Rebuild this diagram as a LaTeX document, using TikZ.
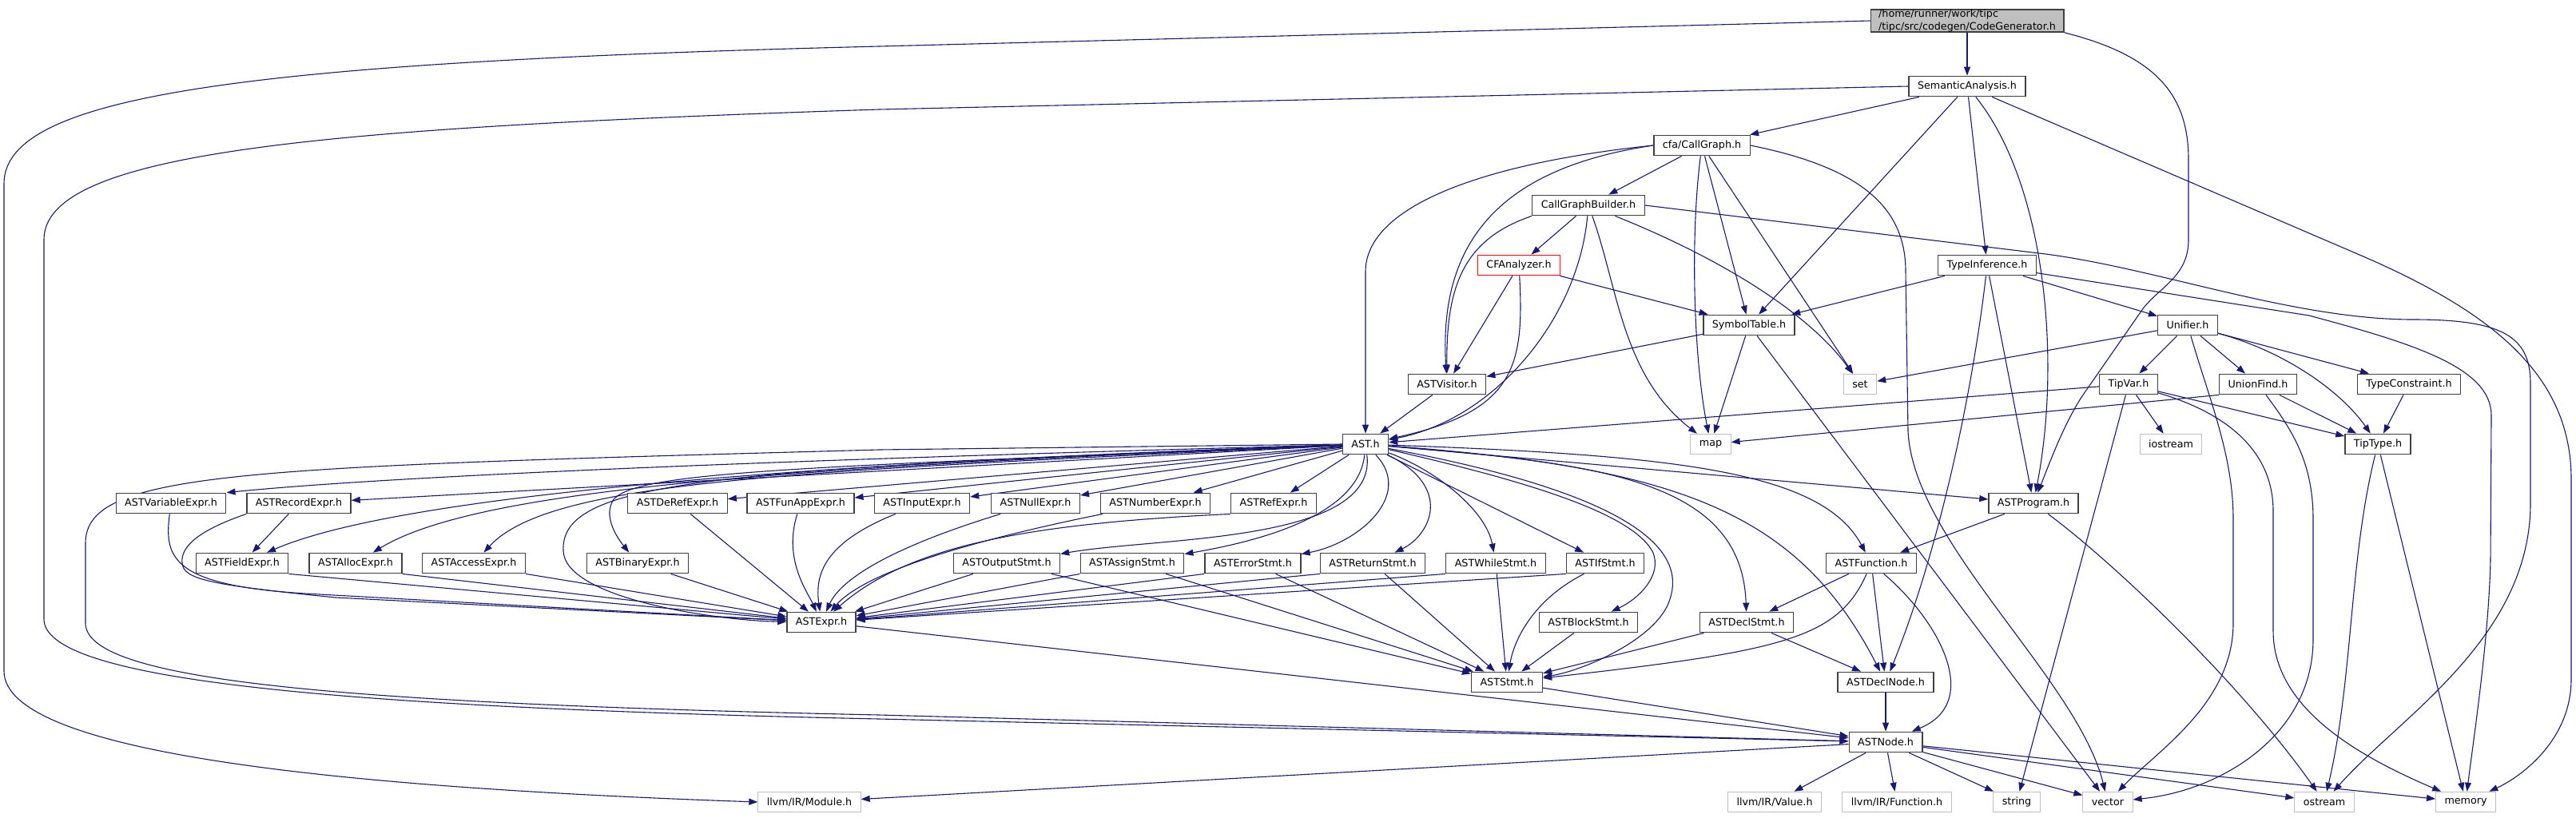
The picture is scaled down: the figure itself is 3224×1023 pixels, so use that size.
\documentclass[tikz,border=0pt]{standalone}
\usepackage{fontspec}
\setmainfont{DejaVu Sans}
\usetikzlibrary{arrows.meta}
\definecolor{edgeblue}{HTML}{191970}
\definecolor{sysgray}{HTML}{BFBFBF}
\pgfdeclarelayer{bg}
\pgfsetlayers{bg,main}

\begin{document}
\begin{tikzpicture}[x=1pt,y=-1pt,
  hdr/.style={draw=black!75,line width=1.3pt,fill=white,inner xsep=11pt,inner ysep=0pt,
    minimum height=25.5pt,font=\fontsize{12.7}{16}\selectfont},
  sys/.style={hdr,draw=sysgray,line width=1pt},
  dep/.style={draw=edgeblue,line width=1.1pt,-{Triangle[length=11pt,width=8pt]}}]
  \useasboundingbox (0,0) rectangle (3224,1023); % 画像全体の大きさ

  % ヘッダファイル（上から順に）
  \node[hdr,fill=sysgray,align=left,inner xsep=10pt] (cg) at (2462,26)
    {/home/runner/work/tipc\\/tipc/src/codegen/CodeGenerator.h}; % 対象のファイル
  \node[hdr] (sa) at (2462,108) {SemanticAnalysis.h};
  \node[hdr] (cgraph) at (2130,182) {cfa/CallGraph.h};
  \node[hdr] (cgb) at (1988,257) {CallGraphBuilder.h};
  \node[hdr,draw=red] (cfa) at (1901,332) {CFAnalyzer.h}; % 赤枠
  \node[hdr] (tinf) at (2487,332) {TypeInference.h};
  \node[hdr] (symtab) at (2189,407) {SymbolTable.h};
  \node[hdr] (unif) at (2738,407) {Unifier.h};
  \node[hdr] (visitor) at (1811,481) {ASTVisitor.h};
  \node[sys] (set) at (2328,481) {set};
  \node[hdr] (tipvar) at (2664,481) {TipVar.h};
  \node[hdr] (unionf) at (2826,481) {UnionFind.h};
  \node[hdr] (tcons) at (3015,481) {TypeConstraint.h};
  \node[hdr] (ast) at (1709,556) {AST.h};
  \node[sys] (map) at (2141,556) {map};
  \node[sys] (iostr) at (2717,556) {iostream};
  \node[hdr] (tiptype) at (2976,556) {TipType.h};
  % 式のノード
  \node[hdr] (varx) at (214,630) {ASTVariableExpr.h};
  \node[hdr] (recx) at (374,630) {ASTRecordExpr.h};
  \node[hdr] (derefx) at (848,630) {ASTDeRefExpr.h};
  \node[hdr] (funappx) at (1002,630) {ASTFunAppExpr.h};
  \node[hdr] (inputx) at (1154,630) {ASTInputExpr.h};
  \node[hdr] (nullx) at (1296,630) {ASTNullExpr.h};
  \node[hdr] (numx) at (1446,630) {ASTNumberExpr.h};
  \node[hdr] (refx) at (1594,630) {ASTRefExpr.h};
  \node[hdr] (prog) at (2545,630) {ASTProgram.h};
  \node[hdr] (fieldx) at (303,705) {ASTFieldExpr.h};
  \node[hdr] (allocx) at (445,705) {ASTAllocExpr.h};
  \node[hdr] (accx) at (593,705) {ASTAccessExpr.h};
  \node[hdr] (binx) at (798,705) {ASTBinaryExpr.h};
  % 文のノード
  \node[hdr] (outst) at (1260,705) {ASTOutputStmt.h};
  \node[hdr] (asgst) at (1417,705) {ASTAssignStmt.h};
  \node[hdr] (errst) at (1568,705) {ASTErrorStmt.h};
  \node[hdr] (retst) at (1718,705) {ASTReturnStmt.h};
  \node[hdr] (whlst) at (1872,705) {ASTWhileStmt.h};
  \node[hdr] (ifst) at (2009,705) {ASTIfStmt.h};
  \node[hdr] (fun) at (2342,705) {ASTFunction.h};
  \node[hdr] (expr) at (1028,779) {ASTExpr.h};
  \node[hdr] (blkst) at (1988,779) {ASTBlockStmt.h};
  \node[hdr] (dclst) at (2186,779) {ASTDeclStmt.h};
  \node[hdr] (stmt) at (1886,854) {ASTStmt.h};
  \node[hdr] (dcln) at (2360,854) {ASTDeclNode.h};
  \node[hdr] (astnode) at (2360,929) {ASTNode.h};
  % 外部ヘッダ（最下段）
  \node[sys] (mod) at (1013,1004) {llvm/IR/Module.h};
  \node[sys] (val) at (2221,1004) {llvm/IR/Value.h};
  \node[sys] (irfun) at (2374,1004) {llvm/IR/Function.h};
  \node[sys] (str) at (2524,1004) {string};
  \node[sys] (vec) at (2638,1004) {vector};
  \node[sys] (ost) at (2909,1004) {ostream};
  \node[sys] (mem) at (3086,1004) {memory};

  \begin{pgfonlayer}{bg}
  % CodeGenerator.h からの依存
  \draw[dep] (cg) -- (sa);
  \draw[dep] (cg.west) -- (1100,58) .. controls (300,78) and (5,120) .. (5,230)
    -- (5,840) .. controls (5,940) and (400,985) .. (mod.west); % 左端を回る線
  \draw[dep] (cg.south east) .. controls (2700,70) and (2739,120) .. (2739,200)
    -- (2739,300) .. controls (2739,345) and (2705,358) .. (2683,385)
    -- (2610,490) .. controls (2585,525) and (2565,580) .. (prog); % TipVar.h の左を通る
  % SemanticAnalysis.h からの依存
  \draw[dep] (sa) -- (cgraph);
  \draw[dep] (sa) -- (symtab);
  \draw[dep] (sa) -- (tinf);
  \draw[dep] (sa) .. controls (2560,230) and (2580,450) .. (prog);
  \draw[dep] (sa) -- (2960,322) .. controls (3120,392) and (3218,470) .. (3218,600)
    -- (3218,850) .. controls (3218,930) and (3150,975) .. (mem); % 右端を下る線
  \draw[dep] (sa.west) -- (1100,137) .. controls (400,160) and (55,190) .. (55,300)
    -- (55,775) .. controls (55,850) and (400,885) .. (1100,900) -- (astnode);
  % cfa/CallGraph.h からの依存
  \draw[dep] (cgraph) -- (cgb);
  \draw[dep] (cgraph.west) .. controls (1880,210) and (1800,300) .. (visitor);
  \draw[dep] (cgraph.west) .. controls (1850,205) and (1709,260) .. (1709,340) -- (ast);
  \draw[dep] (cgraph) .. controls (2115,300) and (2120,450) .. (map);
  \draw[dep] (cgraph) -- (symtab);
  \draw[dep] (cgraph) -- (set);
  \draw[dep] (cgraph.east) .. controls (2330,210) and (2385,260) .. (2385,340)
    -- (2388,540) .. controls (2395,680) and (2600,850) .. (vec);
  % CallGraphBuilder.h からの依存
  \draw[dep] (cgb) -- (cfa);
  \draw[dep] (cgb.south west) .. controls (1830,300) and (1810,360) .. (visitor);
  \draw[dep] (cgb) .. controls (1975,400) and (1870,525) .. (ast);
  \draw[dep] (cgb) .. controls (2025,360) and (2030,470) .. (map);
  \draw[dep] (cgb) .. controls (2170,330) and (2270,400) .. (set);
  \draw[dep] (cgb.east) -- (2560,318) .. controls (2700,336) and (2870,400) .. (3020,400)
    .. controls (3130,400) and (3167,420) .. (3167,480) -- (3167,630)
    .. controls (3167,800) and (3000,900) .. (ost);
  % CFAnalyzer.h からの依存
  \draw[dep] (cfa) -- (visitor);
  \draw[dep] (cfa) .. controls (1908,460) and (1895,515) .. (ast);
  \draw[dep] (cfa) -- (symtab);
  % SymbolTable.h, ASTVisitor.h からの依存
  \draw[dep] (symtab) -- (visitor);
  \draw[dep] (symtab) -- (map);
  \draw[dep] (symtab) -- (vec);
  \draw[dep] (visitor) -- (ast);
  % TypeInference.h からの依存
  \draw[dep] (tinf) -- (symtab);
  \draw[dep] (tinf) -- (unif);
  \draw[dep] (tinf) .. controls (2470,480) and (2430,680) .. (dcln);
  \draw[dep] (tinf) -- (prog);
  \draw[dep] (tinf) -- (2890,395) .. controls (3020,430) and (3118,460) .. (3118,520)
    -- (3117,700) .. controls (3115,800) and (3095,930) .. (mem);
  % Unifier.h からの依存
  \draw[dep] (unif) -- (set);
  \draw[dep] (unif) -- (tipvar);
  \draw[dep] (unif) .. controls (2765,500) and (2795,570) .. (2795,650)
    -- (2795,780) .. controls (2795,880) and (2700,940) .. (vec);
  \draw[dep] (unif) -- (unionf);
  \draw[dep] (unif) -- (tcons);
  \draw[dep] (unif) .. controls (2860,440) and (2930,490) .. (tiptype);
  % TipVar.h からの依存
  \draw[dep] (tipvar) -- (ast);
  \draw[dep] (tipvar) -- (str);
  \draw[dep] (tipvar) -- (iostr);
  \draw[dep] (tipvar) -- (tiptype);
  \draw[dep] (tipvar) .. controls (2780,515) and (2845,560) .. (2845,640)
    -- (2845,790) .. controls (2845,890) and (2960,950) .. (mem);
  % UnionFind.h, TypeConstraint.h, TipType.h からの依存
  \draw[dep] (unionf.south west) -- (map);
  \draw[dep] (unionf) .. controls (2870,540) and (2895,580) .. (2895,650)
    -- (2895,800) .. controls (2895,920) and (2780,990) .. (vec);
  \draw[dep] (unionf) -- (tiptype);
  \draw[dep] (tcons) -- (tiptype);
  \draw[dep] (tiptype) .. controls (2940,700) and (2945,850) .. (ost);
  \draw[dep] (tiptype) -- (mem);
  % ASTProgram.h, ASTFunction.h からの依存
  \draw[dep] (prog) -- (fun);
  \draw[dep] (prog) .. controls (2640,700) and (2800,850) .. (ost);
  \draw[dep] (fun) -- (dclst);
  \draw[dep] (fun) .. controls (2300,800) and (2230,815) .. (stmt);
  \draw[dep] (fun) -- (dcln);
  \draw[dep] (fun) .. controls (2430,780) and (2480,880) .. (astnode);
  \draw[dep] (dclst) -- (stmt);
  \draw[dep] (dclst) -- (dcln);
  \draw[dep] (dcln) -- (astnode);
  \draw[dep] (stmt) -- (astnode);
  \draw[dep] (expr) -- (astnode);
  % ASTNode.h からの依存
  \draw[dep] (astnode) -- (mod);
  \draw[dep] (astnode) -- (val);
  \draw[dep] (astnode) -- (irfun);
  \draw[dep] (astnode) -- (str);
  \draw[dep] (astnode) -- (vec);
  \draw[dep] (astnode) -- (ost);
  \draw[dep] (astnode) -- (mem);
  % AST.h からの依存（左側）
  \draw[dep] (ast.west) -- (1100,563) .. controls (300,585) and (107,590) .. (107,680)
    -- (107,780) .. controls (107,850) and (400,880) .. (1100,895) -- (astnode);
  \draw[dep] (ast) .. controls (1000,575) and (500,595) .. (varx.north east);
  \draw[dep] (ast) -- (recx);
  \draw[dep] (ast) .. controls (1000,580) and (500,620) .. (fieldx);
  \draw[dep] (ast) .. controls (1000,585) and (600,610) .. (allocx);
  \draw[dep] (ast) .. controls (1000,590) and (690,600) .. (accx);
  \draw[dep] (ast) .. controls (1000,585) and (800,590) .. (768,625)
    .. controls (755,645) and (770,670) .. (binx);
  \draw[dep] (ast) .. controls (900,588) and (700,600) .. (705,690)
    .. controls (708,750) and (900,777) .. (expr);
  \draw[dep] (ast) -- (derefx);
  \draw[dep] (ast) -- (funappx);
  \draw[dep] (ast) -- (inputx);
  \draw[dep] (ast) -- (nullx);
  \draw[dep] (ast) -- (numx);
  \draw[dep] (ast) -- (refx);
  % AST.h からの依存（文と右側）
  \draw[dep] (ast) .. controls (1725,680) and (1450,672) .. (outst);
  \draw[dep] (ast) .. controls (1700,650) and (1560,680) .. (asgst);
  \draw[dep] (ast) .. controls (1770,620) and (1700,680) .. (errst);
  \draw[dep] (ast) .. controls (1820,610) and (1790,670) .. (retst);
  \draw[dep] (ast) .. controls (1800,590) and (1860,640) .. (whlst);
  \draw[dep] (ast) -- (ifst);
  \draw[dep] (ast) .. controls (1900,600) and (2040,640) .. (2068,690)
    .. controls (2082,720) and (2050,750) .. (blkst);
  \draw[dep] (ast) .. controls (2050,620) and (2110,690) .. (2090,750)
    .. controls (2075,800) and (1980,840) .. (stmt);
  \draw[dep] (ast) .. controls (2000,580) and (2180,600) .. (dclst);
  \draw[dep] (ast) .. controls (2100,585) and (2250,640) .. (dcln);
  \draw[dep] (ast) .. controls (2100,570) and (2280,590) .. (fun);
  \draw[dep] (ast) -- (prog);
  % 式ヘッダ -> ASTExpr.h
  \draw[dep] (recx) -- (fieldx);
  \draw[dep] (varx) .. controls (205,700) and (215,735) .. (400,744) -- (expr);
  \draw[dep] (recx.south west) .. controls (260,660) and (225,680) .. (228,705)
    .. controls (230,725) and (260,732) .. (420,748) -- (expr);
  \draw[dep] (fieldx.south east) -- (expr);
  \draw[dep] (allocx.south east) -- (expr);
  \draw[dep] (accx.south east) -- (expr);
  \draw[dep] (binx) -- (expr);
  \draw[dep] (derefx) -- (expr);
  \draw[dep] (funappx) .. controls (980,700) and (1010,740) .. (expr);
  \draw[dep] (inputx) .. controls (1030,680) and (1020,720) .. (expr);
  \draw[dep] (nullx) .. controls (1100,690) and (1050,730) .. (expr);
  \draw[dep] (numx) .. controls (1150,690) and (1070,730) .. (expr);
  \draw[dep] (refx.south west) .. controls (1300,655) and (1140,680) .. (expr);
  % 文ヘッダ -> ASTExpr.h / ASTStmt.h
  \draw[dep] (outst) -- (expr);
  \draw[dep] (asgst.south west) -- (expr);
  \draw[dep] (errst.south west) -- (expr);
  \draw[dep] (retst.south west) -- (expr);
  \draw[dep] (whlst.south west) -- (expr);
  \draw[dep] (ifst.south west) -- (expr);
  \draw[dep] (outst) -- (stmt);
  \draw[dep] (asgst) -- (stmt);
  \draw[dep] (errst) -- (stmt);
  \draw[dep] (retst) -- (stmt);
  \draw[dep] (whlst) -- (stmt);
  \draw[dep] (ifst) .. controls (1920,750) and (1895,800) .. (stmt);
  \draw[dep] (blkst) -- (stmt);
  \end{pgfonlayer}
\end{tikzpicture}
\end{document}
